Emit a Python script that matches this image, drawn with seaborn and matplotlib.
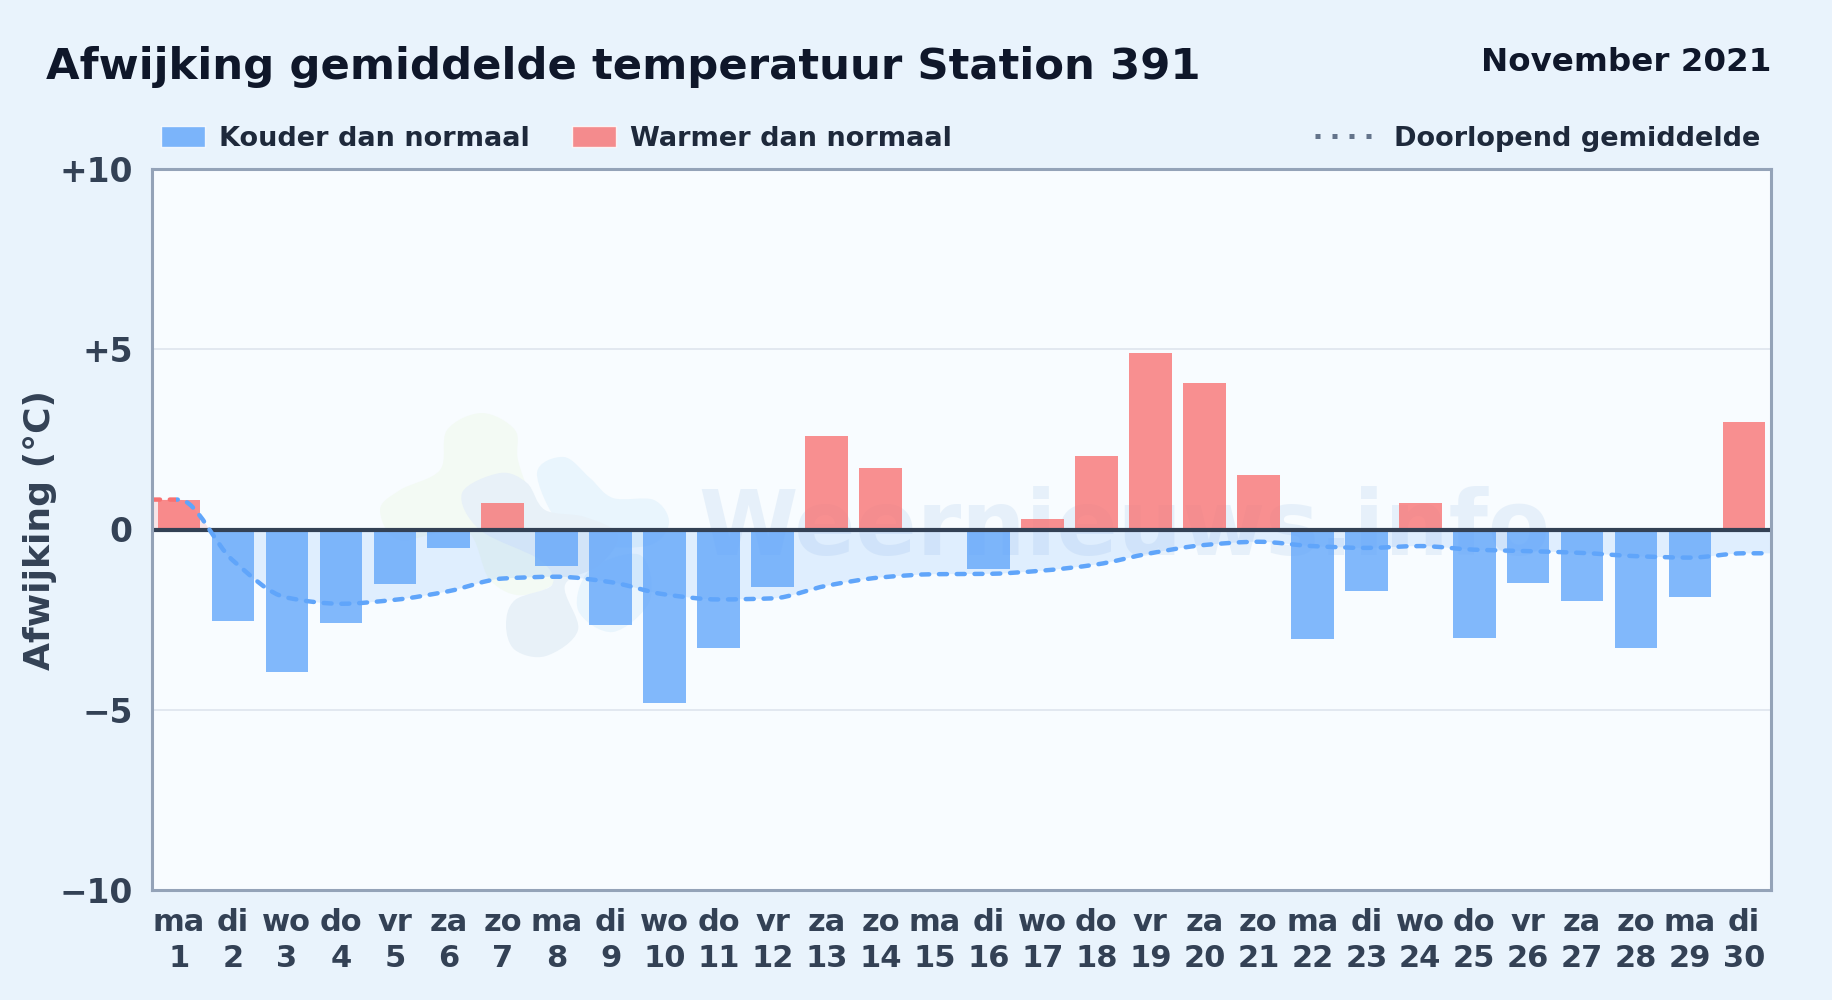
import matplotlib
matplotlib.use('Agg')
import matplotlib.pyplot as plt
import numpy as np
import pandas as pd
import seaborn as sns
from matplotlib.lines import Line2D
from matplotlib.patches import Patch, PathPatch, Rectangle
from matplotlib.path import Path

# Colours
BG = '#e9f3fc'
PLOT_BG = '#f8fcff'
BLUE = '#60a5fa'
RED = '#f87171'
TITLE = '#0f172a'
LEGEND_TEXT = '#1e293b'
TICK_TEXT = '#334155'
SPINE = '#94a3b8'
GRID = '#e2e8f0'

W, H = 1832, 1000

weekdays = ['ma', 'di', 'wo', 'do', 'vr', 'za', 'zo', 'ma', 'di', 'wo',
            'do', 'vr', 'za', 'zo', 'ma', 'di', 'wo', 'do', 'vr', 'za',
            'zo', 'ma', 'di', 'wo', 'do', 'vr', 'za', 'zo', 'ma', 'di']
days = list(range(1, 31))
deviation = [0.83, -2.55, -3.95, -2.58, -1.50, -0.50, 0.73, -1.00, -2.65, -4.80,
             -3.30, -1.60, 2.60, 1.70, -0.05, -1.10, 0.30, 2.03, 4.90, 4.05,
             1.50, -3.05, -1.70, 0.73, -3.00, -1.48, -1.97, -3.30, -1.87, 2.97]
running_mean = [0.83, -0.86, -1.89, -2.06, -1.95, -1.71, -1.36, -1.31, -1.46, -1.80,
                -1.94, -1.91, -1.56, -1.33, -1.24, -1.23, -1.14, -0.97, -0.66, -0.43,
                -0.34, -0.46, -0.51, -0.46, -0.56, -0.60, -0.65, -0.74, -0.78, -0.66]
y_ticks = [10, 5, 0, -5, -10]
y_tick_labels = ['+10', '+5', '0', '\u22125', '\u221210']

# Watermark blobs, in reference pixels
blob_green = [(482, 413), (515, 430), (518, 460), (532, 500), (562, 570), (525, 595),
              (490, 580), (465, 530), (400, 540), (380, 510), (400, 490), (440, 470), (447, 430)]
blob_sky = [(564, 457), (590, 478), (613, 498), (654, 500), (669, 523), (650, 545),
            (600, 545), (560, 525), (537, 473)]
blob_sky2 = [(640, 555), (650, 600), (613, 632), (578, 610), (590, 570)]
blob_grey = [(500, 473), (527, 483), (545, 510), (585, 517), (618, 535), (600, 565),
             (565, 585), (578, 630), (546, 656), (515, 650), (506, 625), (515, 600),
             (552, 585), (540, 560), (480, 530), (462, 493)]


def mono_tangents(x, y):
    d = np.diff(y) / np.diff(x)
    m = np.zeros(len(y))
    for i in range(1, len(y) - 1):
        if d[i - 1] * d[i] > 0:
            m[i] = 2 * d[i - 1] * d[i] / (d[i - 1] + d[i])
    return m


def curve_verts(x, y):
    # cubic segments through the points, keeps the line from overshooting
    m = mono_tangents(x, y)
    verts = [(x[0], y[0])]
    for i in range(len(x) - 1):
        h = (x[i + 1] - x[i]) / 3
        verts += [(x[i] + h, y[i] + m[i] * h),
                  (x[i + 1] - h, y[i + 1] - m[i + 1] * h),
                  (x[i + 1], y[i + 1])]
    return verts


def blob_patch(points, color):
    pts = np.array(points, dtype=float)
    n = len(pts)
    verts = [tuple(pts[0])]
    for i in range(n):
        p0, p1, p2, p3 = pts[i - 1], pts[i], pts[(i + 1) % n], pts[(i + 2) % n]
        verts += [tuple(p1 + (p2 - p0) / 6), tuple(p2 - (p3 - p1) / 6), tuple(p2)]
    verts = [(vx / W, 1 - vy / H) for vx, vy in verts]
    codes = [Path.MOVETO] + [Path.CURVE4] * (len(verts) - 1)
    return PathPatch(Path(verts, codes), facecolor=color, edgecolor='none', zorder=0.2)


sns.set_theme(style='white')
plt.rcParams['font.family'] = ['DejaVu Sans']
plt.rcParams['font.weight'] = 'bold'

df = pd.DataFrame({
    'dag': [f'{w}\n{d}' for w, d in zip(weekdays, days)],
    'afwijking': deviation,
})
df['soort'] = np.where(df['afwijking'] < 0, 'koud', 'warm')

fig = plt.figure(figsize=(W / 100, H / 100), dpi=100, facecolor=BG)
ax = fig.add_axes([152 / W, 1 - 890 / H, 1619 / W, 721 / H], facecolor=PLOT_BG)

sns.barplot(data=df, x='dag', y='afwijking', hue='soort', order=df['dag'],
            palette={'koud': BLUE, 'warm': RED}, dodge=False, width=0.79,
            saturation=1, alpha=0.78, legend=False, linewidth=0, ax=ax, zorder=2)

ax.set_xlim(-0.5, 29.5)
ax.set_ylim(-10, 10)
ax.set_yticks(y_ticks)
ax.set_yticklabels(y_tick_labels)
ax.set_xlabel('')
ax.set_ylabel('')
ax.tick_params(axis='y', length=0, labelsize=23.7, labelcolor=TICK_TEXT, pad=14)
ax.tick_params(axis='x', length=0, labelsize=22, labelcolor=TICK_TEXT, pad=13)
for lab in ax.get_xticklabels() + ax.get_yticklabels():
    lab.set_fontweight('bold')
for lab in ax.get_xticklabels():
    lab.set_linespacing(1.32)
ax.grid(axis='y', color=GRID, linewidth=1.4, zorder=0.5)
ax.set_axisbelow(True)
for sp in ax.spines.values():
    sp.set_visible(True)
    sp.set_edgecolor(SPINE)
    sp.set_linewidth(2.2)
    sp.set_zorder(6)
ax.axhline(0, color=TICK_TEXT, linewidth=3, zorder=3)

# watermark
for pts, col in [(blob_green, '#f3faf4'), (blob_sky, '#e9f5fd'), (blob_sky2, '#e9f5fd'),
                 (blob_grey, '#e8f1f8')]:
    p = blob_patch(pts, col)
    p.set_transform(fig.transFigure)
    ax.add_patch(p)
ax.text(1124 / W, 1 - 530 / H, 'Weernieuws.info', transform=fig.transFigure, ha='center',
        va='center', fontsize=65, color='#dbe9f7', alpha=0.6, zorder=0.3)

# running mean: flat run-out to both axis edges; only the run-out before day 1 is red
xs = np.array([-0.5] + list(range(30)) + [29.5], dtype=float)
ys = np.array([running_mean[0]] + running_mean + [running_mean[-1]], dtype=float)
verts = curve_verts(xs, ys)
codes = [Path.MOVETO] + [Path.CURVE4] * (len(verts) - 1)
area = Path(verts + [(xs[-1], 0), (xs[0], 0), (xs[0], ys[0])],
            codes + [Path.LINETO, Path.LINETO, Path.CLOSEPOLY])
fill_zones = [(Rectangle((-0.5, 0), 30, 10, transform=ax.transData), RED),
              (Rectangle((-0.5, -10), 30, 10, transform=ax.transData), BLUE)]
for clip, col in fill_zones:
    fill = PathPatch(area, facecolor=col, edgecolor='none', alpha=0.16, zorder=1)
    ax.add_patch(fill)
    fill.set_clip_path(clip)
line_zones = [(Rectangle((-0.5, -10), 0.45, 20, transform=ax.transData), RED),
              (Rectangle((-0.05, -10), 29.55, 20, transform=ax.transData), BLUE)]
for clip, col in line_zones:
    line = PathPatch(Path(verts, codes), facecolor='none', edgecolor=col, linewidth=3.2,
                     linestyle=(0, (1.8, 2.2)), capstyle='round', zorder=4)
    ax.add_patch(line)
    line.set_clip_path(clip)

fig.text(46 / W, 1 - 79 / H, 'Afwijking gemiddelde temperatuur Station 391', fontsize=31.2,
         fontweight='bold', color=TITLE, ha='left', va='baseline')
fig.text(1771 / W, 1 - 71 / H, 'November 2021', fontsize=23.4, fontweight='bold',
         color=TITLE, ha='right', va='baseline')
fig.text(40 / W, 1 - 530 / H, 'Afwijking (\u00b0C)', fontsize=26, fontweight='bold',
         color=TICK_TEXT, rotation=90, ha='center', va='center')

leg_kw = dict(frameon=False, fontsize=19.5, labelcolor=LEGEND_TEXT, borderpad=0, borderaxespad=0,
              handleheight=0.8)
leg = fig.legend(handles=[Patch(facecolor=BLUE, alpha=0.8, label='Kouder dan normaal'),
                          Patch(facecolor=RED, alpha=0.8, label='Warmer dan normaal')],
                 loc='center left', bbox_to_anchor=(161 / W, 1 - 139 / H), ncol=2,
                 handlelength=1.62, handletextpad=0.52, columnspacing=1.55, **leg_kw)
for t in leg.get_texts():
    t.set_fontweight('bold')
leg2 = fig.legend(handles=[Line2D([], [], color='#64748b', linewidth=3.6,
                                  linestyle=(0, (1, 2.4)), label='Doorlopend gemiddelde')],
                  loc='center right', bbox_to_anchor=(1760 / W, 1 - 139 / H),
                  handlelength=2.1, handletextpad=0.8, **leg_kw)
for t in leg2.get_texts():
    t.set_fontweight('bold')

fig.savefig('out.png', dpi=100, facecolor=fig.get_facecolor())
plt.close(fig)
